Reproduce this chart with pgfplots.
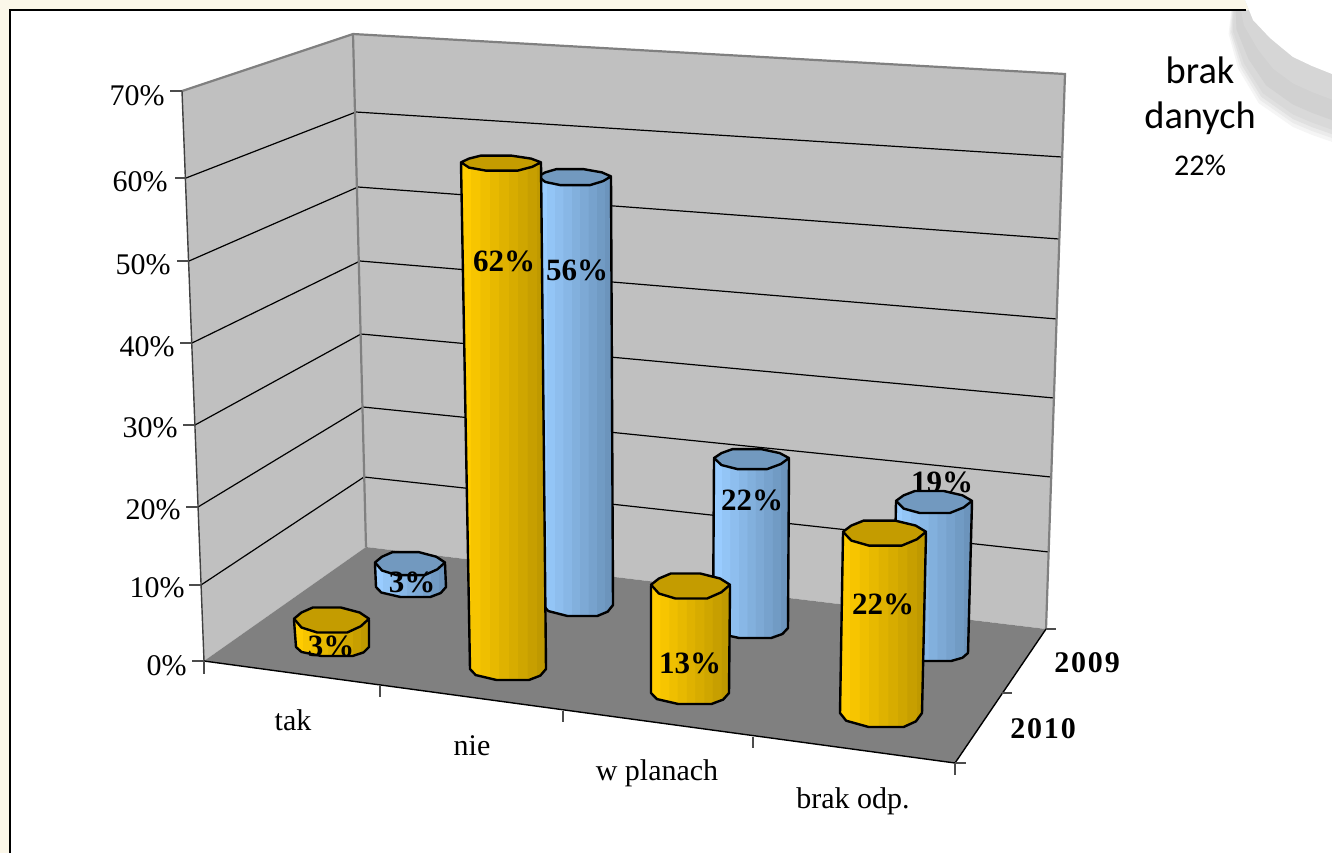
\documentclass[border=0pt]{standalone}
\usepackage{fontspec}
\usepackage{pgfplots}
\usepackage{pgfplotstable}
\pgfplotsset{compat=1.18}
\setmainfont{Liberation Serif}
\newfontfamily\carlito{Carlito}
\newfontfamily\spaced[LetterSpace=6]{Liberation Serif}

\definecolor{cream}{HTML}{FBF7E9}
\definecolor{wall}{HTML}{C0C0C0}
\definecolor{floorgray}{HTML}{808080}
\definecolor{yA}{HTML}{FFCC00}
\definecolor{yB}{HTML}{BF9900}
\definecolor{yTop}{HTML}{C49C00}
\definecolor{bA}{HTML}{99CCFF}
\definecolor{bB}{HTML}{6C94BC}
\definecolor{bTop}{HTML}{7299BF}

% nine flat bands across a cylinder
\newcommand\facets[3]{\pgfdeclarehorizontalshading{#1}{100bp}{%
  color(0bp)=(#2); color(30.5bp)=(#2);
  color(30.6bp)=(#2!87!#3); color(36.1bp)=(#2!87!#3);
  color(36.2bp)=(#2!75!#3); color(41.6bp)=(#2!75!#3);
  color(41.7bp)=(#2!62!#3); color(47.2bp)=(#2!62!#3);
  color(47.3bp)=(#2!50!#3); color(52.7bp)=(#2!50!#3);
  color(52.8bp)=(#2!37!#3); color(58.3bp)=(#2!37!#3);
  color(58.4bp)=(#2!25!#3); color(63.8bp)=(#2!25!#3);
  color(63.9bp)=(#2!12!#3); color(69.4bp)=(#2!12!#3);
  color(69.5bp)=(#3); color(100bp)=(#3)}}
\facets{shadeY}{yA}{yB}
\facets{shadeB}{bA}{bB}

% value in percent, k = pixels per percent at that spot of the floor,
% the rest is where the cylinder stands in the picture
\pgfplotstableread{
cat v k xtl xtr xbl xbr yb rt rb
tak 3 7.8 375 445 376 446 587 11.5 10
nie 56 7.64 538 611 543 613 605 8 11
plan 22 7.68 714 789 713 788 628 10 10
brak 19 7.95 896 972 893 968 653 11 8
}\rearrow
\pgfplotstableread{
cat v k xtl xtr xbl xbr yb rt rb
tak 3 9 294 369 296 369 647 12.5 9
nie 62 8.16 461 541 470 546 669 7.5 11
plan 13 8.23 651 730 651 729 693 12.5 11
brak 22 8.18 843 926 840 922 713 12.5 14
}\frontrow

% the cylinders are coarse polygons, flat on top and on the front
\pgfplotstableread{
u w
-1 -0.1
-0.8 -0.6
-0.5 -1
0.25 -1
0.75 -0.6
1 -0.1
0.78 0.5
0.42 1
-0.38 1
-0.8 0.6
}\topunit
\pgfplotstableread{
t u w
0 -1 0
1 -1 0
1 -0.85 0.55
1 -0.3 1
1 0.55 1
1 0.85 0.6
1 1 0
0 1 0
}\sideunit

\pgfplotstableread{
xo yo xi yi
1245 0 1245 0
1245 10 1245 0
1232 10 1245 0
1230 33 1253 20
1240 67 1270 38
1260 100 1282 48
1293 123 1293 57
1312 131 1312 66
1332 138 1332 74
1332 0 1332 0
}\curl

\newcommand\getv[3]{\pgfplotstablegetelem{\i}{#1}\of{#3}\let#2=\pgfplotsretval}
\newcommand\cylinders[3]{%
  \pgfplotsforeachungrouped \i in {0,1,2,3}{%
    \getv{v}\cv{#1}\getv{k}\ck{#1}\getv{xtl}\cxtl{#1}\getv{xtr}\cxtr{#1}%
    \getv{xbl}\cxbl{#1}\getv{xbr}\cxbr{#1}\getv{yb}\cyb{#1}\getv{rt}\crt{#1}\getv{rb}\crb{#1}%
    \pgfmathsetmacro\cyt{\cyb-\cv*\ck}%
    \pgfmathsetmacro\tcx{(\cxtl+\cxtr)/2}%
    \pgfmathsetmacro\trx{(\cxtr-\cxtl)/2}%
    \pgfmathsetmacro\bcx{(\cxbl+\cxbr)/2}%
    \pgfmathsetmacro\brx{(\cxbr-\cxbl)/2}%
    \addplot[draw=black,line width=1.2pt,line join=round,shade,shading=#2] table[
      x expr={(1-\thisrow{t})*(\tcx+\trx*\thisrow{u})+\thisrow{t}*(\bcx+\brx*\thisrow{u})},
      y expr={(1-\thisrow{t})*\cyt+\thisrow{t}*(\cyb+\crb*\thisrow{w})}] {\sideunit} -- cycle;
    \addplot[draw=black,line width=1.2pt,line join=round,fill=#3] table[
      x expr={\tcx+\trx*\thisrow{u}},
      y expr={\cyt+\crt*\thisrow{w}}] {\topunit} -- cycle;
  }%
}
% one band of the curl's shadow, #1 = 1 at the outer edge, 0 at the white part
\newcommand\shadowband[2]{\addplot[draw=none,fill=#2] table[
  x expr={\thisrow{xi}+#1*(\thisrow{xo}-\thisrow{xi})},
  y expr={\thisrow{yi}+#1*(\thisrow{yo}-\thisrow{yi})}] {\curl} -- cycle;}
% one gridline: front corner, back corner, right end
\newcommand\gridl[6]{\addplot[black,line width=0.6pt] coordinates {(#1,#2) (#3,#4) (#5,#6)};}
\newcommand\tickl[4]{\addplot[black!70,line width=0.7pt] coordinates {(#1,#2) (#3,#4)};}

\begin{document}
\begin{tikzpicture}[
  txt/.style={inner sep=0pt,font=\fontsize{15}{18}\selectfont,text=black},
  ylab/.style={txt,anchor=base east},
  xlab/.style={txt,anchor=base},
  val/.style={inner sep=0pt,anchor=center,font=\fontsize{15.5}{18}\selectfont\bfseries,text=black},
  yr/.style={inner sep=0pt,anchor=base west,font=\fontsize{15}{18}\selectfont\spaced\bfseries,text=black}]
\begin{axis}[
  scale only axis,width=666pt,height=426.5pt,
  xmin=0,xmax=1332,ymin=0,ymax=853,y dir=reverse,
  hide axis,clip=true]

% page, panel
\addplot[draw=none,fill=cream] coordinates {(0,0) (1332,0) (1332,853) (0,853)} -- cycle;
\addplot[draw=none,fill=white] coordinates {(10,10) (1332,10) (1332,853) (10,853)} -- cycle;

% page curl at the corner
\shadowband{1.06}{black!4}
\shadowband{1}{black!8}
\shadowband{0.94}{black!12}
\shadowband{0.87}{black!15}
\shadowband{0.72}{black!18}
\shadowband{0.4}{black!16}
\addplot[draw=none,fill=cream] coordinates {(1200,0) (1245,0) (1249,10) (1200,10)} -- cycle;
\addplot[draw=none,fill=white] table[x=xi,y=yi] {\curl} -- cycle;
\addplot[black,line width=0.8pt] coordinates {(10,853) (10,10) (1246,10)};

% walls and floor
\addplot[draw=none,fill=wall] coordinates {(182,91) (353,34) (366,547) (204,661)} -- cycle;
\addplot[draw=none,fill=wall] coordinates {(353,34) (1065,74) (1046,629) (366,547)} -- cycle;
\addplot[draw=none,fill=floorgray] coordinates {(204,661) (366,547) (1046,629) (955,763)} -- cycle;

\gridl{186}{178}{356}{112}{1062}{157}
\gridl{189}{261}{358}{187}{1059}{239}
\gridl{192}{343}{360}{261}{1057}{319}
\gridl{195}{425}{361}{334}{1054}{398}
\gridl{198}{507}{363}{407}{1051}{477}
\gridl{201}{585}{364}{477}{1049}{552}

\addplot[floorgray,line width=1.1pt] coordinates {(182,91) (353,34) (1065,74) (1046,629)};
\addplot[floorgray,line width=1.1pt] coordinates {(353,34) (366,547)};
\addplot[black!75,line width=0.7pt] coordinates {(182,91) (204,661)};
\addplot[black,line width=0.7pt] coordinates {(204,661) (955,763) (1046,629)};

% ticks
\tickl{170}{91}{182}{91}
\tickl{175}{178}{186}{178}
\tickl{177}{261}{189}{261}
\tickl{180}{343}{192}{343}
\tickl{183}{425}{195}{425}
\tickl{186}{507}{198}{507}
\tickl{189}{585}{201}{585}
\tickl{192}{661}{204}{661}
\tickl{204}{661}{204}{674}
\tickl{380}{686}{380}{697}
\tickl{563}{711}{563}{722}
\tickl{753}{737}{753}{748}
\tickl{955}{763}{955}{775}
\tickl{1046}{629}{1056}{629}
\tickl{1002}{693}{1012}{693}
\tickl{955}{763}{966}{763}

\node[val] at (axis cs:942,482) {19\%};
\cylinders{\rearrow}{shadeB}{bTop}
\node[val] at (axis cs:412,582) {3\%};
\node[val] at (axis cs:577,270) {56\%};
\node[val] at (axis cs:752,500) {22\%};
\cylinders{\frontrow}{shadeY}{yTop}
\node[val] at (axis cs:331,646) {3\%};
\node[val] at (axis cs:504,261) {62\%};
\node[val] at (axis cs:690,663) {13\%};
\node[val] at (axis cs:883,604) {22\%};

\node[ylab] at (axis cs:165,105) {70\%};
\node[ylab] at (axis cs:168,191) {60\%};
\node[ylab] at (axis cs:171,274) {50\%};
\node[ylab] at (axis cs:175,356) {40\%};
\node[ylab] at (axis cs:178,437) {30\%};
\node[ylab] at (axis cs:181,519) {20\%};
\node[ylab] at (axis cs:185,597) {10\%};
\node[ylab] at (axis cs:187,675) {0\%};

\node[xlab] at (axis cs:293,730) {tak};
\node[xlab] at (axis cs:472,755) {nie};
\node[xlab] at (axis cs:657,780) {w planach};
\node[xlab] at (axis cs:853,808) {brak odp.};
\node[yr] at (axis cs:1054,672) {2009};
\node[yr] at (axis cs:1010,738) {2010};

\node[inner sep=0pt,anchor=base,font=\fontsize{19.2}{20}\selectfont\carlito] at (axis cs:1200,83) {brak};
\node[inner sep=0pt,anchor=base,font=\fontsize{19.2}{20}\selectfont\carlito] at (axis cs:1200,128) {danych};
\node[inner sep=0pt,anchor=base,font=\fontsize{15}{18}\selectfont\carlito] at (axis cs:1200,175) {22\%};
\end{axis}
\end{tikzpicture}
\end{document}
